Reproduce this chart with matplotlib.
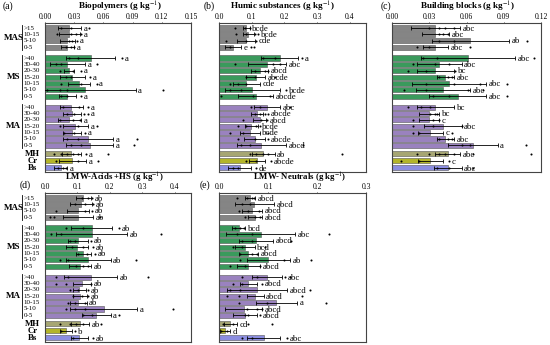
import matplotlib.pyplot as plt
from matplotlib.transforms import blended_transform_factory

plt.rcParams['font.family'] = ['Liberation Serif', 'DejaVu Serif']
plt.rcParams['mathtext.fontset'] = 'stix'

# categories
mas_depths = [">15", "10-15", "5-10", "0-5"]
ms_depths = [">40", "30-40", "20-30", "15-20", "10-15", "5-10", "0-5"]
ma_depths = [">40", "30-40", "20-30", "15-20", "10-15", "5-10", "0-5"]
others = ["MH", "Cr", "Bs"]

colors = {"MAS": "#858585", "MS": "#3a9a5c", "MA": "#9a82bf",
          "MH": "#a6a673", "Cr": "#b3b52a", "Bs": "#8b8de0"}

# (a) Biopolymers
bio_mean = [0.025, 0.025, 0.023, 0.023,
            0.047, 0.023, 0.025, 0.028, 0.035, 0.041, 0.023,
            0.027, 0.028, 0.025, 0.031, 0.028, 0.044, 0.046,
            0.027, 0.028, 0.016]
bio_sd = [0.012, 0.011, 0.008, 0.007,
          0.025, 0.018, 0.005, 0.013, 0.011, 0.052, 0.009,
          0.012, 0.009, 0.012, 0.013, 0.009, 0.026, 0.024,
          0.010, 0.014, 0.007]
bio_pts = [[0.016, 0.027, 0.045], [0.012, 0.027, 0.032, 0.037], [0.025, 0.028, 0.033],
           [0.022, 0.027, 0.030],
           [0.025, 0.034, 0.079], [0.011, 0.016, 0.053], [0.015, 0.029, 0.037],
           [0.022, 0.027, 0.046], [0.016, 0.037, 0.053], [0.002, 0.015, 0.023, 0.121],
           [0.016, 0.023, 0.037],
           [0.018, 0.035, 0.044], [0.023, 0.030, 0.040, 0.044], [0.015, 0.029, 0.036],
           [0.015, 0.034, 0.053], [0.020, 0.030, 0.041], [0.023, 0.034, 0.095],
           [0.027, 0.037, 0.091],
           [0.009, 0.016, 0.023, 0.029, 0.034, 0.042, 0.065], [0.011, 0.034, 0.054],
           [0.013, 0.018, 0.022]]
bio_letters = ["a"] * 21

# (b) Humic substances
hum_mean = [0.084, 0.089, 0.082, 0.043,
            0.186, 0.147, 0.124, 0.112, 0.084, 0.102, 0.112,
            0.147, 0.116, 0.124, 0.099, 0.094, 0.109, 0.130,
            0.135, 0.116, 0.063]
hum_sd = [0.010, 0.017, 0.027, 0.025,
          0.056, 0.059, 0.026, 0.028, 0.040, 0.084, 0.053,
          0.039, 0.019, 0.019, 0.020, 0.030, 0.031, 0.076,
          0.035, 0.024, 0.036]
hum_pts = [[0.048, 0.079, 0.094], [0.053, 0.084, 0.109, 0.119], [0.022, 0.084, 0.114],
           [0.033, 0.099, 0.106],
           [0.135, 0.170, 0.255], [0.048, 0.165, 0.186], [0.109, 0.140, 0.150],
           [0.084, 0.109, 0.170], [0.033, 0.058, 0.084], [0.033, 0.068, 0.206],
           [0.007, 0.104, 0.155],
           [0.099, 0.124, 0.216], [0.109, 0.124, 0.140, 0.150], [0.073, 0.130, 0.147],
           [0.058, 0.084, 0.114, 0.124], [0.033, 0.073, 0.150], [0.058, 0.109, 0.150],
           [0.068, 0.094, 0.257],
           [0.094, 0.114, 0.135, 0.150, 0.378], [0.084, 0.114, 0.160],
           [0.043, 0.058, 0.114]]
hum_letters = ["bcde", "bcde", "cde", "e", "a", "abc", "abcd", "abcde", "cde", "bcde",
               "abcde", "abc", "abcde", "abcd", "bcde", "bcde", "abcde", "abcd",
               "ab", "abcde", "de"]

# (c) Building blocks
bb_mean = [0.035, 0.035, 0.063, 0.035,
           0.061, 0.038, 0.035, 0.043, 0.046, 0.041, 0.053,
           0.035, 0.030, 0.030, 0.041, 0.031, 0.043, 0.065,
           0.045, 0.031, 0.045]
bb_sd = [0.020, 0.011, 0.031, 0.010,
         0.038, 0.018, 0.015, 0.007, 0.030, 0.022, 0.023,
         0.015, 0.008, 0.008, 0.015, 0.010, 0.007, 0.020,
         0.010, 0.010, 0.011]
bb_pts = [[0.030, 0.038, 0.043, 0.050], [0.038, 0.041, 0.045], [0.038, 0.050, 0.109],
          [0.020, 0.030, 0.063],
          [0.025, 0.036, 0.114], [0.017, 0.035, 0.046], [0.013, 0.027, 0.051],
          [0.038, 0.045, 0.048], [0.027, 0.050, 0.071, 0.093], [0.010, 0.027, 0.061, 0.073],
          [0.033, 0.046, 0.093],
          [0.013, 0.023, 0.031], [0.031, 0.035, 0.036], [0.017, 0.033, 0.038],
          [0.017, 0.033, 0.056], [0.017, 0.022, 0.048], [0.038, 0.045, 0.048],
          [0.056, 0.063, 0.108],
          [0.020, 0.030, 0.038, 0.043, 0.050, 0.065, 0.112], [0.007, 0.022, 0.046],
          [0.036, 0.046, 0.065]]
bb_letters = ["abc", "abc", "ab", "abc", "abc", "abc", "bc", "abc", "abc", "abc", "abc",
              "bc", "bc", "c", "abc", "c", "abc", "a", "abc", "c", "abc"]

# (d) LMW-Acids + HS
lmwa_mean = [0.118, 0.110, 0.102, 0.102,
             0.144, 0.144, 0.102, 0.099, 0.118, 0.134, 0.108,
             0.141, 0.113, 0.106, 0.108, 0.102, 0.181, 0.158,
             0.108, 0.064, 0.106]
lmwa_sd = [0.023, 0.034, 0.034, 0.045,
           0.063, 0.110, 0.032, 0.034, 0.023, 0.068, 0.033,
           0.081, 0.028, 0.021, 0.021, 0.026, 0.104, 0.044,
           0.027, 0.018, 0.027]
lmwa_pts = [[0.113, 0.134, 0.144], [0.092, 0.123, 0.149], [0.034, 0.123, 0.144],
            [0.014, 0.029, 0.170],
            [0.066, 0.118, 0.228], [0.019, 0.050, 0.358], [0.076, 0.092, 0.141],
            [0.082, 0.118, 0.149], [0.102, 0.129, 0.155], [0.045, 0.071, 0.280],
            [0.097, 0.118, 0.134],
            [0.034, 0.071, 0.317], [0.034, 0.066, 0.141], [0.076, 0.102, 0.134],
            [0.087, 0.113, 0.134], [0.071, 0.092, 0.123], [0.066, 0.092, 0.123, 0.395],
            [0.118, 0.144, 0.228],
            [0.045, 0.076, 0.097, 0.118, 0.172], [0.050, 0.092], [0.087, 0.147]]
lmwa_letters = ["ab"] * 16 + ["a", "a", "ab", "b", "ab"]

# (e) LMW-Neutrals
lmwn_mean = [0.063, 0.072, 0.067, 0.074,
             0.040, 0.085, 0.076, 0.053, 0.060, 0.101, 0.060,
             0.098, 0.060, 0.077, 0.074, 0.117, 0.050, 0.053,
             0.023, 0.012, 0.091]
lmwn_sd = [0.010, 0.040, 0.020, 0.014,
           0.014, 0.070, 0.035, 0.020, 0.020, 0.044, 0.024,
           0.030, 0.017, 0.061, 0.017, 0.042, 0.037, 0.024,
           0.013, 0.010, 0.033]
lmwn_pts = [[0.036, 0.057, 0.067, 0.072], [0.046, 0.063], [0.040, 0.060, 0.081],
            [0.053, 0.074, 0.084],
            [0.033, 0.043, 0.050], [0.036, 0.067, 0.224], [0.046, 0.067, 0.147],
            [0.029, 0.046, 0.094], [0.043, 0.067, 0.077], [0.043, 0.132, 0.188],
            [0.023, 0.053, 0.084],
            [0.046, 0.077, 0.135, 0.145], [0.029, 0.046, 0.087], [0.023, 0.043, 0.186],
            [0.016, 0.040, 0.169], [0.040, 0.098, 0.219], [0.057, 0.077, 0.087],
            [0.053, 0.060, 0.084],
            [0.009, 0.029, 0.060, 0.108], [0.005, 0.016], [0.046, 0.067, 0.139]]
lmwn_letters = ["abcd", "abcd", "abcd", "abcd", "bcd", "abc", "abcd", "bcd", "abcd", "ab",
                "abcd", "abc", "abcd", "abcd", "abcd", "a", "abcd", "abcd", "cd", "d", "abc"]

# row layout: groups separated by gaps
groups = [("MAS", mas_depths), ("MS", ms_depths), ("MA", ma_depths)]
pos, row_colors, group_spans = [], [], []
y = 0.0
for name, depths in groups:
    start = y
    for d in depths:
        pos.append(y)
        row_colors.append(colors[name])
        y += 1
    group_spans.append((name, start, y - 1, depths))
    y += 0.72
y -= 0.72 - 0.35
other_pos = []
for name in others:
    pos.append(y)
    other_pos.append(y)
    row_colors.append(colors[name])
    y += 1.1


def panel(rect, mean, sd, pts, letters, xmax, ticks, fmt, ylabels):
    ax = fig.add_axes(rect)
    ax.barh(pos, mean, height=0.82, color=row_colors, edgecolor="#555555",
            linewidth=0.4, zorder=2)
    ax.errorbar(mean, pos, xerr=sd, fmt="none", ecolor="k", elinewidth=0.6,
                capsize=1.4, capthick=0.6, zorder=3)
    for yy, p, m, s, lt in zip(pos, pts, mean, sd, letters):
        ax.scatter(p, [yy] * len(p), s=2.2, c="k", linewidths=0, zorder=4)
        end = m + s
        near = [v for v in p if v <= end + 0.05 * xmax]
        lx = max([end] + near) + 0.018 * xmax
        ax.text(lx, yy + 0.1, lt, fontsize=6.3, va="center", ha="left", zorder=5)
    ax.set_xlim(0, xmax)
    ax.set_ylim(y - 0.45, -0.8)
    ax.set_xticks(ticks)
    ax.set_xticklabels([fmt.format(t) for t in ticks])
    ax.xaxis.tick_top()
    ax.tick_params(axis="x", labelsize=5.5, length=1, width=0.5, pad=0.3)
    ax.set_yticks([])
    for sp in ax.spines.values():
        sp.set_linewidth(0.8)
        sp.set_color("#444444")
    if ylabels:
        tr = blended_transform_factory(ax.transAxes, ax.transData)
        for name, s0, s1, depths in group_spans:
            ax.plot([-0.155, -0.155], [s0 - 0.45, s1 + 0.45], color="k", lw=0.6,
                    transform=tr, clip_on=False)
            ax.text(-0.215, (s0 + s1) / 2, name, transform=tr, fontsize=6.5,
                    fontweight="bold", ha="center", va="center")
            for i, d in enumerate(depths):
                ax.text(-0.145, s0 + i, d, transform=tr, fontsize=5,
                        ha="left", va="center")
        for name, yy in zip(others, other_pos):
            ax.text(-0.085, yy, name, transform=tr, fontsize=6.3, fontweight="bold",
                    ha="center", va="center")
    return ax


fig = plt.figure(figsize=(5.5, 3.45), dpi=100)

W, H = 550.0, 345.0
top_rect = lambda x0, x1: [x0 / W, 1 - 172 / H, (x1 - x0) / W, (172 - 23) / H]
bot_rect = lambda x0, x1: [x0 / W, 1 - 342 / H, (x1 - x0) / W, (342 - 193) / H]

panel(top_rect(45, 191), bio_mean, bio_sd, bio_pts, bio_letters, 0.15,
      [0, 0.03, 0.06, 0.09, 0.12, 0.15], "{:.2f}", True)
panel(top_rect(219, 366), hum_mean, hum_sd, hum_pts, hum_letters, 0.45,
      [0, 0.1, 0.2, 0.3, 0.4], "{:.1f}", False)
panel(top_rect(392, 541), bb_mean, bb_sd, bb_pts, bb_letters, 0.12,
      [0, 0.03, 0.06, 0.09, 0.12], "{:.2f}", False)
panel(bot_rect(45, 191), lmwa_mean, lmwa_sd, lmwa_pts, lmwa_letters, 0.45,
      [0, 0.1, 0.2, 0.3, 0.4], "{:.1f}", True)
panel(bot_rect(219, 366), lmwn_mean, lmwn_sd, lmwn_pts, lmwn_letters, 0.3,
      [0, 0.1, 0.2, 0.3], "{:.1f}", False)

unit = r" (g kg$^{-1}$)"
titles = [("Biopolymers", 120, 7, 6.6), ("Humic substances", 282, 7, 6.6),
          ("Building blocks", 468, 7, 6.6), ("LMW-Acids +HS", 114, 177.5, 6.3),
          ("LMW- Neutrals", 300, 177.5, 6.3)]
for t, x, yy, fs in titles:
    fig.text(x / W, 1 - yy / H, t + unit, fontsize=fs, fontweight="bold",
             ha="center", va="center")
for t, x, yy in [("(a)", 8, 6), ("(b)", 209, 6), ("(c)", 386, 6),
                 ("(d)", 25, 185), ("(e)", 205, 185)]:
    fig.text(x / W, 1 - yy / H, t, fontsize=7, ha="center", va="center")

fig.savefig("out.png", dpi=100)
